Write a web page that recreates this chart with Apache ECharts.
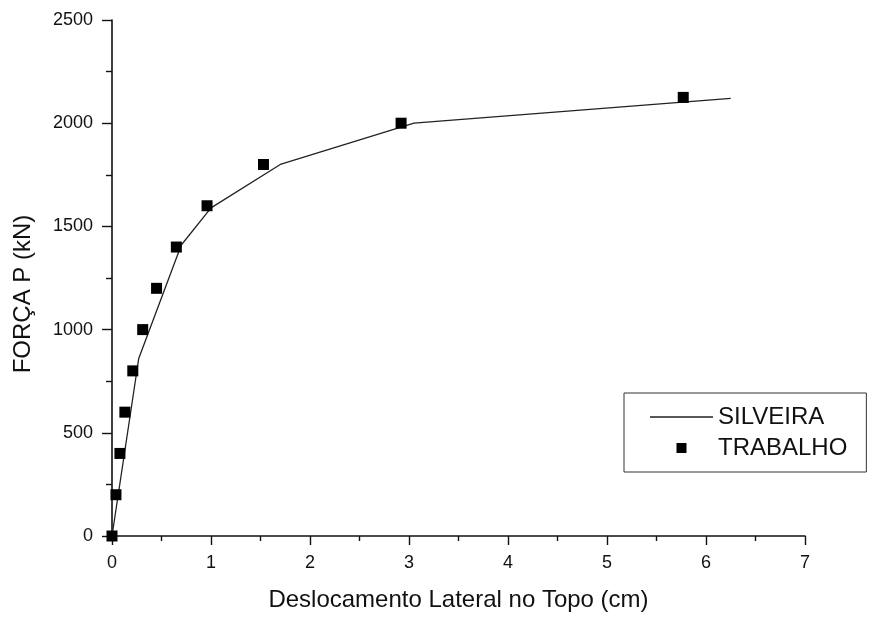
<!DOCTYPE html>
<html>
<head>
<meta charset="utf-8">
<script src="https://cdn.jsdelivr.net/npm/echarts@6/dist/echarts.min.js"></script>
<style>
  html, body { margin: 0; padding: 0; background: #fff; }
  #chart { width: 869px; height: 619px; }
</style>
</head>
<body>
<div id="chart"></div>
<script>
// SILVEIRA reference curve (displacement in cm, force in kN)
const silveiraX = [0, 0.27, 0.70, 1.0, 1.70, 3.05, 6.25];
const silveiraY = [0, 860, 1410, 1590, 1800, 2000, 2120];

// TRABALHO measured points
const trabalhoX = [0, 0.04, 0.08, 0.13, 0.21, 0.31, 0.45, 0.65, 0.96, 1.53, 2.92, 5.77];
const trabalhoY = [0, 200, 400, 600, 800, 1000, 1200, 1400, 1600, 1800, 2000, 2125];

const seriesNames = ['SILVEIRA', 'TRABALHO'];
const xTitle = 'Deslocamento Lateral no Topo (cm)';
const yTitle = 'FORÇA P (kN)';

const FONT = '"Liberation Sans", Arial, sans-serif';
const INK = '#111';

// legend glyphs: a thin stroke for the curve, a small square for the points
const LINE_ICON = 'path://M0,0L63,0L63,1.3L0,1.3Z';
const SQUARE_ICON = 'path://M0,0L10,0L10,10L0,10Z';

const chart = echarts.init(document.getElementById('chart'), null, { renderer: 'canvas' });

chart.setOption({
  backgroundColor: '#fff',
  animation: false,
  grid: { left: 112, top: 20, right: 64, bottom: 83, containLabel: false },
  legend: {
    orient: 'vertical',
    left: 624,
    top: 393,
    padding: [12, 19, 12, 26],
    borderColor: '#333',
    borderWidth: 1,
    itemWidth: 63,
    itemHeight: 10,
    itemGap: 7,
    symbolKeepAspect: true,
    textStyle: { fontFamily: FONT, fontSize: 24, color: INK, lineHeight: 24 },
    data: [
      { name: seriesNames[0], icon: LINE_ICON, itemStyle: { color: '#222' } },
      { name: seriesNames[1], icon: SQUARE_ICON, itemStyle: { color: '#000' } }
    ]
  },
  xAxis: {
    type: 'value',
    min: 0, max: 7, interval: 1,
    name: xTitle,
    nameLocation: 'middle',
    nameGap: 64,
    nameMoveOverlap: false,
    nameTextStyle: { fontFamily: FONT, fontSize: 24, color: INK, verticalAlign: 'middle' },
    splitLine: { show: false },
    axisLine: { onZero: false, lineStyle: { color: INK, width: 1.6 } },
    axisTick: { inside: false, length: 9, lineStyle: { color: INK, width: 1.4 } },
    minorTick: { show: true, splitNumber: 2, length: 5, lineStyle: { color: INK, width: 1.4 } },
    axisLabel: { fontFamily: FONT, fontSize: 18, color: INK, margin: 18, formatter: v => String(v) }
  },
  yAxis: {
    type: 'value',
    min: 0, max: 2500, interval: 500,
    name: yTitle,
    nameLocation: 'middle',
    nameGap: 89,
    nameRotate: 90,
    nameMoveOverlap: false,
    nameTextStyle: { fontFamily: FONT, fontSize: 24, color: INK, verticalAlign: 'middle', padding: [0, 32, 0, 0] },
    splitLine: { show: false },
    axisLine: { onZero: false, lineStyle: { color: INK, width: 1.6 } },
    axisTick: { inside: false, length: 10, lineStyle: { color: INK, width: 1.4 } },
    minorTick: { show: true, splitNumber: 2, length: 6, lineStyle: { color: INK, width: 1.4 } },
    axisLabel: { fontFamily: FONT, fontSize: 18, color: INK, margin: 19, formatter: v => String(v) }
  },
  series: [
    {
      name: seriesNames[0],
      type: 'line',
      symbol: 'none',
      lineStyle: { color: '#222', width: 1.3 },
      itemStyle: { color: '#222' },
      data: silveiraX.map((x, i) => [x, silveiraY[i]]),
      z: 2
    },
    {
      name: seriesNames[1],
      type: 'scatter',
      symbol: 'rect',
      symbolSize: 11,
      itemStyle: { color: '#000', opacity: 1 },
      data: trabalhoX.map((x, i) => [x, trabalhoY[i]]),
      z: 3
    }
  ]
});
</script>
</body>
</html>
